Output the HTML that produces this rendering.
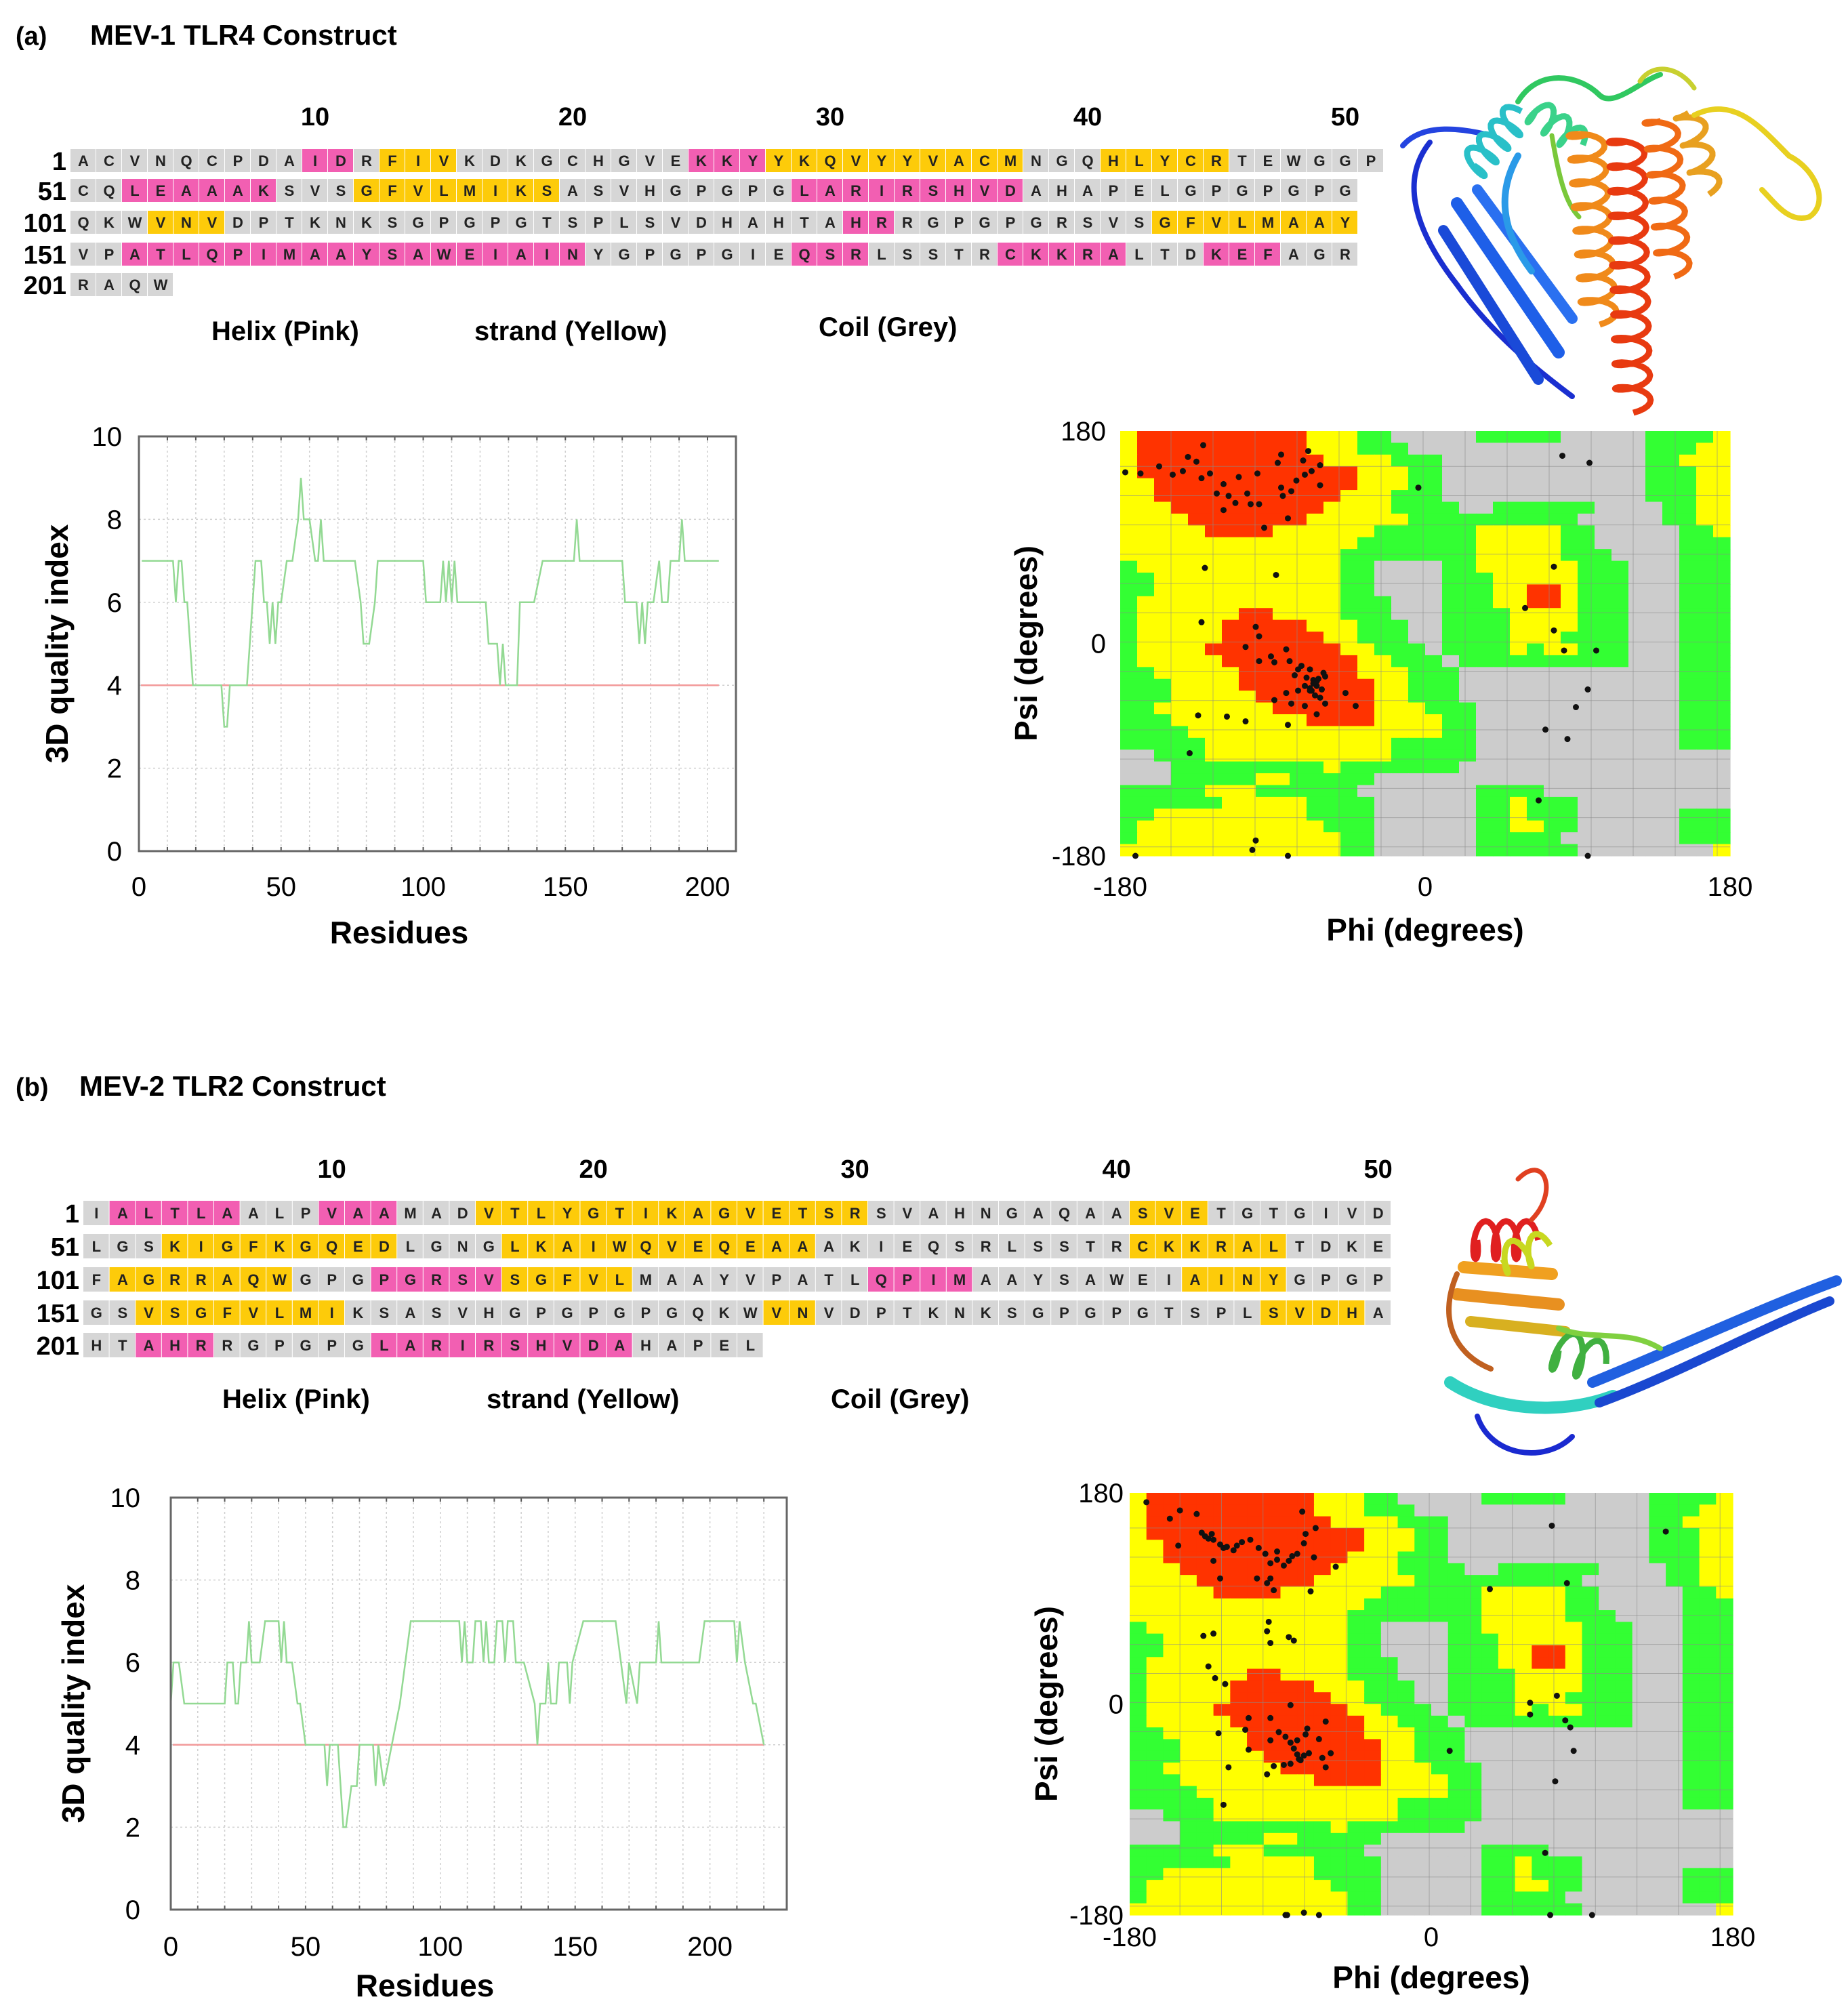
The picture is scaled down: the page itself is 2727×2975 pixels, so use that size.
<!DOCTYPE html>
<html><head><meta charset="utf-8">
<style>
html,body{margin:0;padding:0;background:#fff;}
#root{position:relative;width:2727px;height:2975px;overflow:hidden;font-family:"Liberation Sans",Arial,sans-serif;}
svg text{font-family:"Liberation Sans",Arial,sans-serif;}
</style></head>
<body>
<div id="root">
<svg id="fig" width="2727" height="2975" viewBox="0 0 2727 2975" xmlns="http://www.w3.org/2000/svg">
  <text x="23" y="66" font-size="38" font-weight="bold">(a)</text>
  <text x="133" y="66" font-size="42" font-weight="bold">MEV-1 TLR4 Construct</text>
  <text x="23" y="1617" font-size="38" font-weight="bold">(b)</text>
  <text x="117" y="1617" font-size="42" font-weight="bold">MEV-2 TLR2 Construct</text>

  <text x="312" y="502" font-size="40" font-weight="bold">Helix (Pink)</text>
  <text x="700" y="502" font-size="40" font-weight="bold">strand (Yellow)</text>
  <text x="1208" y="496" font-size="40" font-weight="bold">Coil (Grey)</text>
  <text x="328" y="2078" font-size="40" font-weight="bold">Helix (Pink)</text>
  <text x="718" y="2078" font-size="40" font-weight="bold">strand (Yellow)</text>
  <text x="1226" y="2078" font-size="40" font-weight="bold">Coil (Grey)</text>

  <g id="seqA"></g>
  <g id="seqB"></g>
  <g id="structA"></g>
  <g id="structB"></g>
  <g id="qualA"></g>
  <g id="qualB"></g>
  <g id="ramaA"></g>
  <g id="ramaB"></g>
</svg>
</div>
<script>
const NS='http://www.w3.org/2000/svg';
// ---------- sequence data ----------
const seqRowsA=['ACVNQCPDAIDRFIVKDKGCHGVEKKYYKQVYYVACMNGQHLYCRTEWGGP','CQLEAAAKSVSGFVLMIKSASVHGPGPGLARIRSHVDAHAPELGPGPGPG','QKWVNVDPTKNKSGPGPGTSPLSVDHAHTAHRRGPGPGRSVSGFVLMAAY','VPATLQPIMAAYSAWEIAINYGPGPGIEQSRLSSTRCKKRALTDKEFAGR','RAQW'];
const ssRowsA=['C9H2C1E3C9H3E10C3E5C6','C2H6C3E8C9H9C13','C3E3C24H2C10E8','C2H18C8H3C5H5C3H3C3','C4'];
const seqRowsB=['IALTLAALPVAAMADVTLYGTIKAGVETSRSVAHNGAQAASVETGTGIVD','LGSKIGFKGQEDLGNGLKAIWQVEQEAAAKIEQSRLSSTRCKKRALTDKE','FAGRRAQWGPGPGRSVSGFVLMAAYVPATLQPIMAAYSAWEIAINYGPGP','GSVSGFVLMIKSASVHGPGPGPGQKWVNVDPTKNKSGPGPGTSPLSVDHA','HTAHRRGPGPGLARIRSHVDAHAPEL'];
const ssRowsB=['C1H5C3H3C3E15C10E3C7','C3E9C4E12C12E6C4','C1E7C3H5E5C9H4C8E4C4','C2E8C16E2C17E4C1','C2H3C6H10C5'];
const rowStarts=['1','51','101','151','201'];
const posLabels=['10','20','30','40','50'];

// ---------- quality (3D-1D) data ----------
const qResA=[1,12,13,14,15,16,17,19,29,30,31,32,38,40,41,43,44,45,46,47,48,49,50,52,54,56,57,58,60,62,63,64,65,66,76,78,79,81,83,84,100,101,106,107,108,109,110,111,112,122,123,126,127,128,129,133,134,139,142,153,154,155,163,170,171,175,176,177,178,179,181,183,184,186,187,190,191,192,204];
const qValA=[7,7,6,7,7,6,6,4,4,3,3,4,4,6,7,7,6,6,5,6,5,6,6,7,7,8,9,8,8,7,7,8,7,7,7,6,5,5,6,7,7,6,6,7,6,7,6,7,6,6,5,5,4,5,4,4,6,6,7,7,8,7,7,7,6,6,5,6,5,6,6,7,6,6,7,7,8,7,7];
const qResB=[0,1,3,5,20,21,23,24,25,26,28,29,30,33,35,40,41,42,43,45,47,48,50,57,58,59,62,64,65,67,69,70,75,76,77,79,82,85,87,89,107,108,109,110,112,113,115,116,117,118,120,121,123,124,125,127,128,131,135,136,137,139,140,141,143,144,147,148,149,153,165,167,169,170,173,174,180,181,182,196,198,209,210,211,213,216,217,220];
const qValB=[5,6,6,5,5,6,6,5,5,6,6,7,6,6,7,7,6,7,6,6,5,5,4,4,3,4,4,2,2,3,3,4,4,3,4,3,4,5,6,7,7,6,7,6,6,7,7,6,7,6,6,7,7,6,7,7,6,6,5,4,5,5,6,5,5,6,6,5,6,7,7,6,5,6,5,6,6,7,6,6,7,7,6,7,6,5,5,4];
const qYTicks=[0,2,4,6,8,10];
const qXTicks=[0,50,100,150,200];
const qThreshold=4;

// ---------- Ramachandran data ----------
const ramaRegionRows=[
'YRRRRRRRRRRYYYGG.....GGGGG.....GGGGY',
'YRRRRRRRRRRYYYGGG..............GGGYY',
'YRRRRRRRRRRRYYYYGGG............GGYYY',
'YRRRRRRRRRRRRRYYYGG............GGGYY',
'YYRRRRRRRRRRRRYYYGG............GGGYY',
'YYRRRRRRRRRRRYYYGGG............GGGYY',
'YYYRRRRRRRRRYYYYGGGG..GGGGGG....GGYY',
'YYYYRRRRRRRYYYYYYGGGGGGGGGG.....GGYY',
'YYYYYRRRRYYYYYYGGGGGGYYYYYGG.....GGY',
'YYYYYYYYYYYYYYGGGGGGGYYYYYGG.....GGG',
'YYYYYYYYYYYYYGGGGGGGGYYYYYGGG....GGG',
'GYYYYYYYYYYYYGG....GGYYYYYYGGG...GGG',
'GGYYYYYYYYYYYGG....GGGYYYYYGGG...GGG',
'GGYYYYYYYYYYYGG....GGGYYRRYGGG...GGG',
'GYYYYYYYYYYYYGGG...GGGYYRRYGGG...GGG',
'GYYYYYYRRYYYYGGG...GGGGYYYYGGG...GGG',
'GYYYYYRRRRRYYYGGG..GGGGYYYYGGG...GGG',
'GYYYYYRRRRRRYYGGG..GGGGYYYGGGG...GGG',
'GYYYYRRRRRRRRYYGGG.GGGGYGYYGGG...GGG',
'GYYYYYRRRRRRRRYYGGG.GGGGGGGGGG...GGG',
'GGYYYYYRRRRRRRYYYGGG.............GGG',
'GGGYYYYRRRRRRRRYYGGG.............GGG',
'GGGYYYYYRRRRRRRYYGGG.............GGG',
'GGYYYYYYYRRRRRRYYYGGG............GGG',
'GGGYYYYYYYYRRRRYYYYGG............GGG',
'GGGGYYYYYYYYYYYYYYYGG............GGG',
'GGGGGYYYYYYYYYYYGGGGG............GGG',
'..GGGYYYYYYYYYYYGGGGG...............',
'...GGGGGGGGGYGGGGGGG................',
'...GGGGGYYGGGGG.....................',
'GGGGGYYYGGGGGG.......GGGG...........',
'GGGGGGYYYYYGGGG......GGYGGG.........',
'GGYYYYYYYYYGGGG......GGYGGG......GGG',
'GYYYYYYYYYYYGGG......GGYYGG......GGG',
'GYYYYYYYYYYYYGG......GGGGG.......GGG',
'YYYYYYYYYYYYYGG......GGGGGG........Y'];
const ramaTicks=[-180,0,180];
const phiA=[-177,-168,-157,-149,-143,-135,-131,-140,-132,-127,-123,-119,-116,-119,-112,-110,-105,-103,-98,-99,-95,-87,-85,-85,-84,-81,-79,-76,-72,-71,-69,-62,-62,-67,-130,-88,-4,81,97,-132,76,59,76,82,101,96,89,71,84,67,-100,-98,-106,-91,-98,-89,-82,-80,-75,-73,-68,-77,-66,-64,-68,-64,-61,-67,-71,-64,-59,-75,-82,-89,-79,-71,-64,-59,-47,-41,-134,-117,-106,-81,-139,-100,-102,-171,-81,96,-66,-63,-60,-65,-68,-70,-62];
const psiA=[145,144,150,143,146,154,168,158,140,144,127,135,125,113,119,141,127,118,118,144,98,153,160,132,125,106,129,138,155,143,163,151,134,146,64,58,132,159,153,18,65,30,11,-6,-6,-39,-54,-73,-81,-133,14,6,-3,-11,-15,-16,-5,-15,-22,-19,-22,-27,-31,-36,-40,-32,-39,-40,-36,-32,-28,-40,-42,-48,-51,-53,-60,-51,-42,-53,-61,-62,-66,-69,-93,-167,-175,-186,-186,-185,-34,-30,-25,-44,-38,-29,-46];
const phiB=[-170,-150,-140,-156,-151,-137,-135,-133,-131,-130,-126,-124,-122,-118,-116,-113,-108,-103,-99,-92,-96,-92,-88,-85,-83,-80,-77,-76,-75,-70,-69,-57,-94,-96,-126,-130,-104,-98,-72,-130,-136,-97,-98,-85,-82,-96,-133,-129,-123,35,81,72,140,75,59,59,80,83,85,11,74,68,71,96,-87,-67,-76,-86,-124,-121,-84,-63,-109,-96,-111,-127,-109,-96,-91,-87,-84,-82,-80,-78,-76,-73,-79,-84,-88,-94,-98,-65,-63,-60,-67,-74,-75,-80];
const psiB=[172,165,162,158,135,146,143,141,145,140,136,133,134,131,135,138,140,133,128,130,120,123,118,122,126,128,164,137,145,125,150,117,97,107,107,122,107,103,96,60,58,70,62,57,54,52,32,22,17,98,103,152,147,7,1,-9,-14,-20,-40,-40,-66,-127,-181,-187,-181,-181,-178,-190,-86,-54,-1,-15,-12,-12,-22,-25,-39,-31,-24,-28,-33,-38,-43,-48,-44,-42,-47,-51,-52,-53,-60,-46,-54,-42,-30,-21,-26,-31];

// ---------- helpers ----------
function el(tag,attrs,parent){const e=document.createElementNS(NS,tag);for(const k in attrs)e.setAttribute(k,attrs[k]);if(parent)parent.appendChild(e);return e;}
function expandRuns(s){let out='';const re=/([CHE])(\d+)/g;let m;while((m=re.exec(s)))out+=m[1].repeat(+m[2]);return out;}
const ssColor={H:'#f25fb2',E:'#fdcb0a',C:'#d6d6d6'};

function drawSequence(gid,rows,ss,x0,cw,rowY,ch,numY){
  const g=document.getElementById(gid);
  posLabels.forEach((lab,i)=>{
    const t=el('text',{x:x0+(10*(i+1)-0.5)*cw,y:numY,'font-size':38,'font-weight':'bold','text-anchor':'middle'},g);
    
    
    t.textContent=lab;
  });
  rows.forEach((row,r)=>{
    const s=expandRuns(ss[r]);const cy=rowY[r];
    const lt=el('text',{x:x0-6,y:cy+14,'font-size':38,'font-weight':'bold','text-anchor':'end'},g);
    
    
    lt.textContent=rowStarts[r];
    for(let i=0;i<row.length;i++){
      const rc=el('rect',{x:x0+i*cw,y:cy-ch/2,width:cw-1,height:ch,fill:ssColor[s[i]||'C']},g);
      
      
      const t=el('text',{x:x0+(i+0.5)*cw,y:cy+8,'font-size':22,'font-weight':'bold','text-anchor':'middle',fill:'#222'},g);
      
      
      t.textContent=row[i];
    }
  });
}
drawSequence('seqA',seqRowsA,ssRowsA,104,38,[237,281,328,375,420],34,185);
drawSequence('seqB',seqRowsB,ssRowsB,123,38.6,[1790,1839,1888,1937,1985],36,1738);

function qualityChart(gid,X0,Y0,W,H,xmax,res,val,ylabX,xlabY,titleX,titleCx,titleY){
  const g=document.getElementById(gid);
  const sx=v=>X0+v/xmax*W, sy=v=>Y0+H-v/10*H;
  for(let v=10;v<xmax;v+=10){
    const l=el('line',{x1:sx(v),x2:sx(v),y1:Y0,y2:Y0+H,stroke:'#cfcfcf','stroke-width':1.5,'stroke-dasharray':'3,4'},g);
    
    
    el('line',{x1:sx(v),x2:sx(v),y1:Y0,y2:Y0+6,stroke:'#555','stroke-width':2},g);
    el('line',{x1:sx(v),x2:sx(v),y1:Y0+H,y2:Y0+H-6,stroke:'#555','stroke-width':2},g);
  }
  qYTicks.forEach(v=>{
    if(v>0&&v<10){const l=el('line',{x1:X0,x2:X0+W,y1:sy(v),y2:sy(v),stroke:'#cfcfcf','stroke-width':1.5,'stroke-dasharray':'3,4'},g);
      
      }
    const t=el('text',{x:ylabX,y:sy(v)+14,'font-size':40,'text-anchor':'end'},g);
    
    
    t.textContent=v;
  });
  qXTicks.forEach(v=>{
    const t=el('text',{x:sx(v),y:xlabY,'font-size':40,'text-anchor':'middle'},g);
    
    
    t.textContent=v;
  });
  const th=el('line',{x1:X0+3,x2:sx(res[res.length-1]),y1:sy(qThreshold),y2:sy(qThreshold),stroke:'#f29a9a','stroke-width':2.5},g);
  
  
  const pts=res.map((r,i)=>sx(r).toFixed(1)+','+sy(val[i]).toFixed(1)).join(' ');
  const pl=el('polyline',{points:pts,fill:'none',stroke:'#93d993','stroke-width':2.5},g);
  
  
  const fr=el('rect',{x:X0,y:Y0,width:W,height:H,fill:'none',stroke:'#666','stroke-width':3},g);
  
  
  const xt=el('text',{x:titleCx,y:titleY,'font-size':46,'font-weight':'bold','text-anchor':'middle'},g);
  
  
  xt.textContent='Residues';
  const yt=el('text',{x:0,y:0,'font-size':46,'font-weight':'bold','text-anchor':'middle',transform:`translate(${titleX},${Y0+H/2}) rotate(-90)`},g);
  
  
  yt.textContent='3D quality index';
}
qualityChart('qualA',205,644,881,612,210,qResA,qValA,180,1322,100,589,1392);
qualityChart('qualB',252,2210,909,608,228.5,qResB,qValB,207,2886,124,627,2946);

function rama(gid,X0,Y0,W,H,phi,psi,yLabX,xLabY,titleY,psiTitleX){
  const g=document.getElementById(gid);
  const n=36,cw=W/n,chh=H/n;
  const col={R:'#ff3300',Y:'#ffff00',G:'#33ff33','.':'#cccccc'};
  ramaRegionRows.forEach((row,r)=>{
    for(let c=0;c<n;c++){
      const rc=el('rect',{x:X0+c*cw,y:Y0+r*chh,width:cw+0.6,height:chh+0.6,fill:col[row[c]]||'#ccc'},g);
      
      
    }
  });
  const sx=v=>X0+(v+180)/360*W, sy=v=>Y0+(180-v)/360*H;
  for(let v=-150;v<180;v+=24.8){
    const a=el('line',{x1:sx(v),x2:sx(v),y1:Y0,y2:Y0+H,stroke:'#8a8a8a','stroke-width':1,'stroke-opacity':0.6},g);
    
    
    const b=el('line',{x1:X0,x2:X0+W,y1:sy(-v),y2:sy(-v),stroke:'#8a8a8a','stroke-width':1,'stroke-opacity':0.6},g);
    
    
  }
  phi.forEach((p,i)=>{
    const d=el('circle',{cx:sx(p),cy:sy(Math.max(-180,Math.min(180,psi[i]))),r:4.5,fill:'#111'},g);
    
    
  });
  ramaTicks.forEach(v=>{
    const t=el('text',{x:yLabX,y:sy(v)+14,'font-size':40,'text-anchor':'end'},g);
    
    
    t.textContent=v;
    const u=el('text',{x:sx(v),y:xLabY,'font-size':40,'text-anchor':'middle'},g);
    
    
    u.textContent=v;
  });
  const xt=el('text',{x:X0+W/2,y:titleY,'font-size':46,'font-weight':'bold','text-anchor':'middle'},g);
  
  
  xt.textContent='Phi (degrees)';
  const yt=el('text',{x:0,y:0,'font-size':46,'font-weight':'bold','text-anchor':'middle',transform:`translate(${psiTitleX},${Y0+H/2}) rotate(-90)`},g);
  
  
  yt.textContent='Psi (degrees)';
}
rama('ramaA',1653,636,900,627,phiA,psiA,1632,1322,1388,1530);
rama('ramaB',1667,2203,890,623,phiB,psiB,1658,2872,2934,1560);

// ---------- cartoon structures ----------
function helix(g,x1,y1,x2,y2,color,turns,rad){
  const dx=x2-x1,dy=y2-y1,L=Math.hypot(dx,dy),ux=dx/L,uy=dy/L,nx=-uy,ny=ux;
  let d='';const N=turns*20;
  for(let i=0;i<=N;i++){const t=i/N,a=t*turns*2*Math.PI;const px=x1+dx*t+nx*rad*Math.sin(a)+ux*rad*0.35*Math.cos(a),py=y1+dy*t+ny*rad*Math.sin(a)+uy*rad*0.35*Math.cos(a);d+=(i?'L':'M')+px.toFixed(1)+','+py.toFixed(1);}
  const p=el('path',{d:d,fill:'none',stroke:color,'stroke-width':9,'stroke-linejoin':'round'},g);
  
  
}
function ribbon(g,d,color,w){
  const p=el('path',{d:d,fill:'none',stroke:color,'stroke-width':w,'stroke-linecap':'round','stroke-linejoin':'round'},g);
  
  
}
const sA=document.getElementById('structA');
ribbon(sA,'M2110,210 C2070,260 2080,330 2150,420 C2200,490 2260,540 2320,585','#1a2fd0',8);
ribbon(sA,'M2070,215 C2100,180 2160,190 2200,200','#2444e0',8);
ribbon(sA,'M2150,300 L2300,520','#1e5fe8',18);
ribbon(sA,'M2180,280 L2320,470','#2a70f0',16);
ribbon(sA,'M2130,340 L2270,560','#1a4ad8',16);
ribbon(sA,'M2240,230 C2200,300 2230,360 2260,400','#2a9ae8',10);
helix(sA,2170,250,2240,170,'#29c0c8',4,22);
helix(sA,2260,160,2330,210,'#3ad28a',3,20);
ribbon(sA,'M2240,150 C2270,100 2330,110 2360,140 C2380,160 2420,120 2450,110','#30c860',8);
ribbon(sA,'M2290,200 C2300,260 2310,300 2330,320','#7ac83a',7);
helix(sA,2340,190,2360,470,'#f08a1a',8,26);
helix(sA,2400,200,2410,600,'#e83a10',11,26);
helix(sA,2450,170,2470,400,'#f06a14',6,24);
helix(sA,2490,160,2520,280,'#e8a020',3,20);
ribbon(sA,'M2500,170 C2560,140 2600,190 2640,230 C2680,250 2700,300 2670,320 C2640,330 2620,300 2600,280','#e8d020',8);
ribbon(sA,'M2420,120 C2440,90 2480,100 2500,130','#c8d030',7);

const sB=document.getElementById('structB');
helix(sB,2170,1830,2260,1830,'#e02020',3,28);
ribbon(sB,'M2240,1740 C2280,1700 2300,1760 2260,1800','#e04020',7);
ribbon(sB,'M2160,1870 L2290,1880','#f0a020',18);
ribbon(sB,'M2150,1910 L2300,1925','#e89020',18);
ribbon(sB,'M2170,1950 L2310,1965','#d8b020',16);
helix(sB,2210,1860,2280,1840,'#c8d820',2,22);
helix(sB,2290,1990,2360,2010,'#40b040',2,30);
ribbon(sB,'M2140,2040 C2200,2080 2300,2090 2380,2060','#30d0c0',18);
ribbon(sB,'M2350,2040 C2450,2000 2600,1930 2710,1890','#2060e0',16);
ribbon(sB,'M2360,2070 C2470,2030 2600,1960 2700,1920','#1a48d0',14);
ribbon(sB,'M2180,2090 C2200,2150 2280,2160 2320,2120','#1a2ad0',8);
ribbon(sB,'M2300,1960 C2350,1980 2400,1960 2450,1990','#80d040',8);
ribbon(sB,'M2150,1880 C2120,1950 2150,2000 2200,2020','#c06020',8);
</script>
</body></html>
